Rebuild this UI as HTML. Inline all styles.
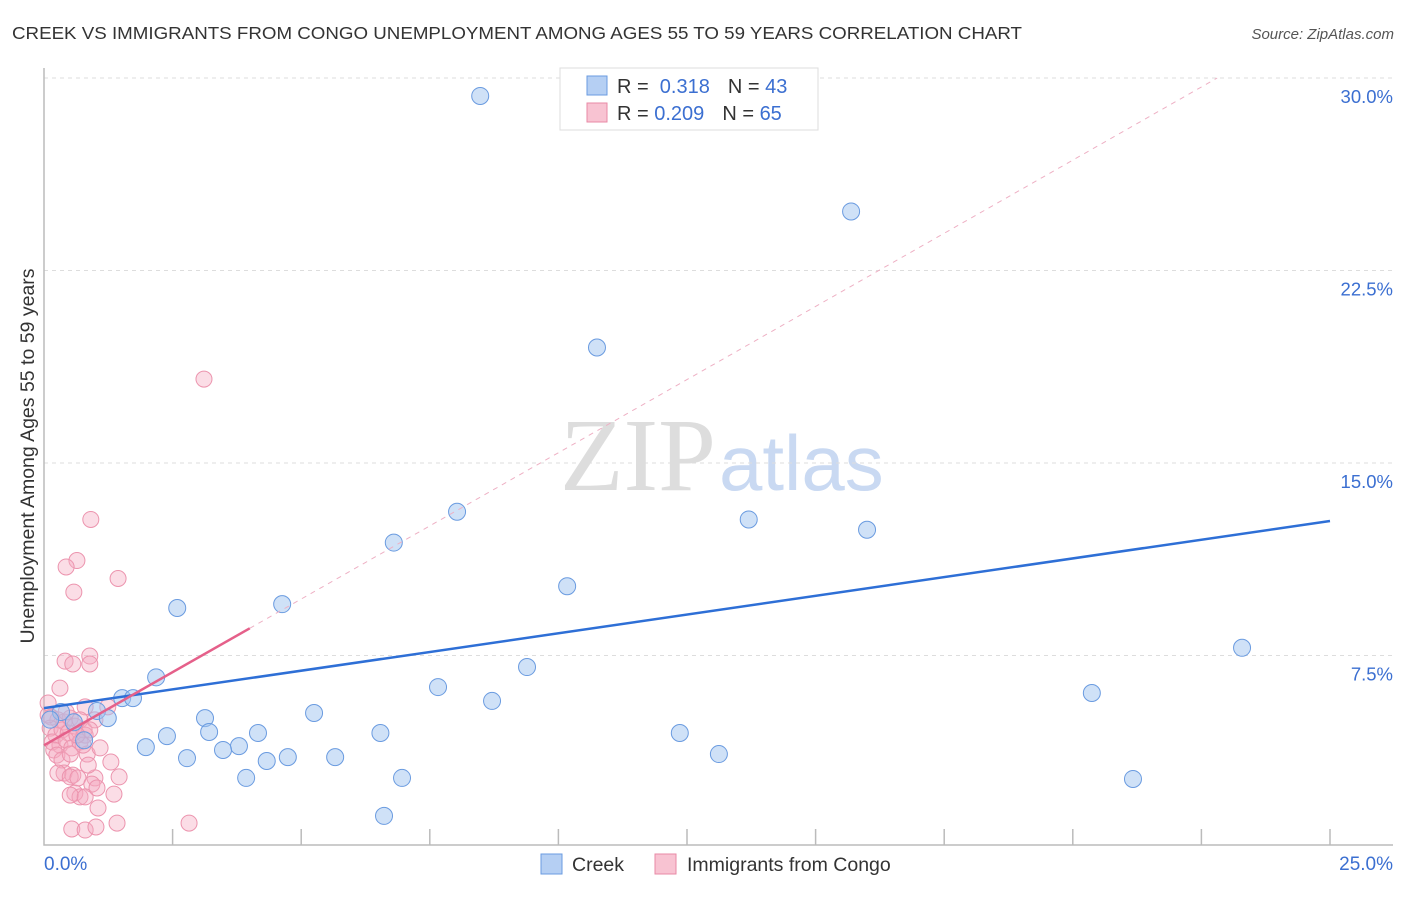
<!DOCTYPE html>
<html><head><meta charset="utf-8"><style>
body{margin:0;background:#fff;font-family:"Liberation Sans",sans-serif}
</style></head><body>
<svg id="c" width="1406" height="892" xmlns="http://www.w3.org/2000/svg">
<text x="12" y="39" font-size="17.5" fill="#333" textLength="1010" lengthAdjust="spacingAndGlyphs">CREEK VS IMMIGRANTS FROM CONGO UNEMPLOYMENT AMONG AGES 55 TO 59 YEARS CORRELATION CHART</text>
<text x="1394" y="39" font-size="15" fill="#555" font-style="italic" text-anchor="end">Source: ZipAtlas.com</text>
<text transform="translate(34,456) rotate(-90)" font-size="19.5" fill="#333" text-anchor="middle">Unemployment Among Ages 55 to 59 years</text>
<text x="716" y="490" font-size="104" fill="#ddd" font-family="Liberation Serif" text-anchor="end">ZIP</text>
<text x="719" y="490" font-size="78" fill="#c9d9f2">atlas</text>
<g id="grid"></g><g id="marks"></g>
<rect x="560" y="68" width="258" height="62" fill="#fff" stroke="#ddd"/>
<rect x="587" y="76" width="20" height="19" fill="#b5cff3" stroke="#6a9be0"/>
<rect x="587" y="103" width="20" height="19" fill="#f8c3d2" stroke="#e88aa6"/>
<text x="617" y="93" font-size="20" fill="#333">R = <tspan fill="#3b6fd1">&#160;0.318</tspan><tspan dx="18">N = </tspan><tspan fill="#3b6fd1">43</tspan></text>
<text x="617" y="120" font-size="20" fill="#333">R = <tspan fill="#3b6fd1">0.209</tspan><tspan dx="18">N = </tspan><tspan fill="#3b6fd1">65</tspan></text>
<text x="44" y="870" font-size="19" fill="#3b6fd1">0.0%</text>
<text x="1393" y="870" font-size="19" fill="#3b6fd1" text-anchor="end">25.0%</text>
<rect x="541" y="854" width="21" height="20" fill="#b5cff3" stroke="#6a9be0"/>
<text x="572" y="871" font-size="19.5" fill="#333">Creek</text>
<rect x="655" y="854" width="21" height="20" fill="#f8c3d2" stroke="#e88aa6"/>
<text x="687" y="871" font-size="19.5" fill="#333">Immigrants from Congo</text>
</svg>
<script>
const yTicks=[7.5,15,22.5,30];
const xTickCount=10;
const creekX=[8.48,15.69,10.75,8.03,6.80,13.70,16.0,10.17,4.63,2.59,23.29,9.39,2.18,7.66,20.37,8.71,1.52,1.73,1.03,0.33,1.24,3.13,5.25,3.21,2.39,4.16,6.54,12.36,1.98,3.79,3.48,2.78,4.33,4.74,5.66,13.12,3.93,6.96,21.17,6.61,0.78,0.12,0.58];
const creekY=[29.3,24.8,19.5,13.1,11.9,12.8,12.4,10.2,9.5,9.35,7.8,7.05,6.65,6.27,6.04,5.73,5.84,5.84,5.34,5.3,5.06,5.06,5.26,4.52,4.36,4.48,4.48,4.48,3.93,3.97,3.82,3.5,3.39,3.54,3.54,3.66,2.73,2.73,2.69,1.25,4.2,5.0,4.9];
const congoX=[3.11,0.91,0.64,0.43,1.44,0.58,0.89,0.89,0.41,0.56,0.31,0.08,0.8,1.24,0.14,0.27,0.39,0.51,0.12,0.23,0.35,0.47,0.6,0.7,0.78,0.16,0.31,0.43,0.54,0.19,0.7,0.8,0.99,0.25,0.35,0.51,0.84,0.76,1.3,0.39,0.27,0.56,0.51,0.66,0.99,1.46,0.93,0.6,0.7,0.51,0.8,1.36,1.03,1.05,0.54,0.8,1.01,1.42,2.82,0.08,0.43,0.89,1.09,0.86,0.64];
const congoY=[18.27,12.8,11.2,10.95,10.5,9.97,7.48,7.17,7.28,7.17,6.23,5.65,5.5,5.5,5.1,4.99,4.91,5.06,4.67,4.4,4.6,4.48,4.75,4.99,4.6,4.13,4.01,4.21,3.9,3.82,4.13,4.4,4.99,3.62,3.43,3.66,3.66,4.01,3.35,2.92,2.92,2.84,2.77,2.73,2.73,2.77,2.49,2.14,1.99,2.06,1.99,2.1,2.34,1.56,0.74,0.7,0.82,0.97,0.97,5.18,5.3,4.6,3.9,3.23,4.4];
const creekTrend=[5.45,12.74];
const congoTrend=[4.0,1.14];
const X=v=>44+v/25*1286, Y=v=>848-v/7.5*192.5;
const NS="http://www.w3.org/2000/svg";
function mk(t,a,p){const e=document.createElementNS(NS,t);for(const k in a)e.setAttribute(k,a[k]);p.appendChild(e);return e;}
const g=document.getElementById('grid'), m=document.getElementById('marks');
yTicks.forEach(t=>{
 const l=mk('line',{x1:44,x2:1393,y1:Y(t),y2:Y(t),stroke:'#ddd','stroke-dasharray':'4,4'},g);
 
 
 const tx=mk('text',{x:1393,y:Y(t)+25,'font-size':18.5,fill:'#3b6fd1','text-anchor':'end'},g);
 tx.textContent=t.toFixed(1)+'%';
 
 
});
const ax=mk('path',{d:'M44 68V845H1393',fill:'none',stroke:'#bbb','stroke-width':1.5},g);


for(let i=1;i<=xTickCount;i++){
 const t=mk('line',{x1:X(i*2.5),x2:X(i*2.5),y1:845,y2:829,stroke:'#bbb','stroke-width':1.5},g);
 
 
}
congoX.forEach((x,i)=>{
 const c=mk('circle',{cx:X(x),cy:Y(congoY[i]),r:8,fill:'rgba(245,170,192,0.4)',stroke:'#ec94ae','stroke-width':1},m);
 
 
});
creekX.forEach((x,i)=>{
 const c=mk('circle',{cx:X(x),cy:Y(creekY[i]),r:8.5,fill:'rgba(160,195,240,0.5)',stroke:'#6a9be0','stroke-width':1},m);
 
 
});
const l1=mk('line',{x1:X(0),y1:Y(creekTrend[0]),x2:X(25),y2:Y(creekTrend[1]),stroke:'#2e6fd6','stroke-width':2.5},m);


const xe=(30-congoTrend[0])/congoTrend[1];
const l2=mk('line',{x1:X(4),y1:Y(congoTrend[0]+4*congoTrend[1]),x2:X(xe),y2:Y(30),stroke:'#eeb0c4','stroke-width':1,'stroke-dasharray':'5,5'},m);


const l3=mk('line',{x1:X(0),y1:Y(congoTrend[0]),x2:X(4),y2:Y(congoTrend[0]+4*congoTrend[1]),stroke:'#e5608a','stroke-width':2.5},m);


</script>
</body></html>
